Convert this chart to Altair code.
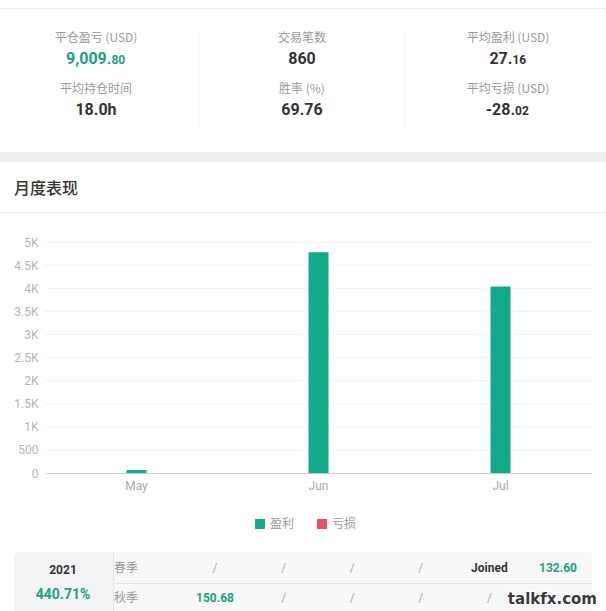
import altair as alt
import pandas as pd

# ---------------- data ----------------
stat_labels = ["平仓盈亏 (USD)", "交易笔数", "平均盈利 (USD)", "平均持仓时间", "胜率 (%)", "平均亏损 (USD)"]
stat_values = ["9,009.80", "860", "27.16", "18.0h", "69.76", "-28.02"]
stat_small_decimals = [True, False, True, False, False, True]
stat_col = [0, 1, 2, 0, 1, 2]
stat_row = [0, 0, 0, 1, 1, 1]

section_title = "月度表现"
months = ["May", "Jun", "Jul"]
monthly_profit = [65, 4780, 4035]
series_names = ["盈利", "亏损"]
y_ticks = [0, 500, 1000, 1500, 2000, 2500, 3000, 3500, 4000, 4500, 5000]

table_year = "2021"
table_year_return = "440.71%"
seasons = ["春季", "秋季"]
season_cells = [
    ["/", "/", "/", "/", "Joined", "132.60"],
    ["150.68", "/", "/", "/", "/", ""],
]
watermark = "talkfx.com"

# ---------------- styles ----------------
GREEN = "#13aa8c"
TEXT_GREEN = "#1c9f86"
RED = "#e4505e"
DARK = "#333333"
GRAY = "#999999"
CJK = "Noto Sans CJK SC"
NUM = "Roboto"

one = pd.DataFrame({"k": [0]})

X_STAT = alt.Scale(domain=[0, 2], range=[96, 508])
Y_STAT = alt.Scale(domain=[0, 1], range=[38, 89])
X_BAND = alt.Scale(domain=months, range=[45.5, 591.5], paddingInner=0.89, paddingOuter=0.445)
Y_BAR = alt.Scale(domain=[0, 5000], range=[473, 242], nice=False)
X_TAB = alt.Scale(domain=[1, 6], range=[215, 558])
Y_TAB = alt.Scale(domain=[0, 1], range=[568, 598])


def rect(x, x2, y, y2, color, **kw):
    return alt.Chart(one).mark_rect(color=color, **kw).encode(
        x=alt.value(x), x2=alt.value(x2), y=alt.value(y), y2=alt.value(y2))


def hrule(x, x2, y, color):
    return alt.Chart(one).mark_rule(color=color, strokeWidth=1).encode(
        x=alt.value(x), x2=alt.value(x2), y=alt.value(y))


def text_width(s, size):
    w = {".": 0.27, ",": 0.25, "-": 0.33}
    return sum(w.get(ch, 0.5615) for ch in s) * size


layers = []

# ---------- stats panel ----------
layers.append(hrule(0, 606, 8.5, "#f0f0f0"))
stats_df = pd.DataFrame({"label": stat_labels, "value": stat_values,
                         "col": stat_col, "row": stat_row, "i": list(range(6))})

div_df = pd.DataFrame({"b": [0.5, 1.5]})
layers.append(alt.Chart(div_df).mark_rule(color="#f2f2f2").encode(
    x=alt.X("b:Q", scale=X_STAT, axis=None), y=alt.value(30), y2=alt.value(130)))

layers.append(alt.Chart(stats_df).mark_text(font=CJK, fontSize=12, color=GRAY, baseline="middle").encode(
    x=alt.X("col:Q", scale=X_STAT, axis=None), y=alt.Y("row:Q", scale=Y_STAT, axis=None), text="label:N"))

for i, v in enumerate(stat_values):
    color = TEXT_GREEN if i == 0 else DARK
    sub = stats_df[stats_df["i"] == i]
    enc = dict(x=alt.X("col:Q", scale=X_STAT, axis=None), y=alt.Y("row:Q", scale=Y_STAT, axis=None))
    if stat_small_decimals[i]:
        p = v.index(".")
        main, dec = v[:p + 1], v[p + 1:]
        dx = (text_width(main, 16) - text_width(dec, 12)) / 2
        d = sub.assign(main=main, dec=dec)
        layers.append(alt.Chart(d).mark_text(font=NUM, fontSize=16, fontWeight="bold", color=color,
                                             baseline="alphabetic", align="right", dy=26, dx=dx).encode(
            text="main:N", **enc))
        layers.append(alt.Chart(d).mark_text(font=NUM, fontSize=12, fontWeight="bold", color=color,
                                             baseline="alphabetic", align="left", dy=26, dx=dx).encode(
            text="dec:N", **enc))
    else:
        layers.append(alt.Chart(sub).mark_text(font=NUM, fontSize=16, fontWeight="bold", color=color,
                                               baseline="alphabetic", align="center", dy=26).encode(
            text="value:N", **enc))

layers.append(rect(0, 606, 152, 162, "#efefef"))

# ---------- title ----------
layers.append(alt.Chart(pd.DataFrame({"t": [section_title]})).mark_text(
    font=CJK, fontSize=16, fontWeight=500, color=DARK, align="left", baseline="middle").encode(
    x=alt.value(14), y=alt.value(189), text="t:N"))
layers.append(hrule(0, 606, 212.5, "#e9e9e9"))

# ---------- bar chart ----------
grid_df = pd.DataFrame({"t": y_ticks[1:]})
layers.append(alt.Chart(grid_df).mark_rule(color="#f1f1f1").encode(
    y=alt.Y("t:Q", scale=Y_BAR, axis=None), x=alt.value(45), x2=alt.value(592)))

bars_df = pd.DataFrame({"month": months, "profit": monthly_profit, "series": series_names[0]})
layers.append(alt.Chart(bars_df).mark_bar(strokeWidth=0).encode(
    x=alt.X("month:N", sort=months, scale=X_BAND,
            axis=alt.Axis(title=None, offset=-138, labelAngle=0, domainColor="#cccccc", ticks=False,
                          labelColor="#aaaaaa", labelFontSize=12, labelFont=NUM, labelPadding=7,
                          grid=False)),
    y=alt.Y("profit:Q", scale=Y_BAR,
            axis=alt.Axis(title=None, offset=-45, values=y_ticks, domain=False, ticks=False, grid=False,
                          labelColor="#b5b5b5", labelFontSize=12, labelFont=NUM, labelPadding=7,
                          labelExpr="datum.value >= 1000 ? (datum.value / 1000) + 'K' : datum.label")),
    color=alt.Color("series:N", scale=alt.Scale(domain=series_names, range=[GREEN, RED]),
                    legend=alt.Legend(title=None, orient="none", legendX=254, legendY=518,
                                      direction="horizontal", symbolType="square", symbolSize=100,
                                      symbolStrokeWidth=0, labelFont=CJK, labelFontSize=12,
                                      labelColor=GRAY, columnPadding=21, labelOffset=4, padding=0)),
))

# ---------- table ----------
layers.append(rect(14, 592, 552, 620, "#f8f8f9", cornerRadius=4))
layers.append(rect(14, 113, 552, 620, "#f3f4f5", cornerRadiusTopLeft=4))
layers.append(alt.Chart(one).mark_rule(color="#e6e6e6").encode(
    x=alt.value(113.5), y=alt.value(552), y2=alt.value(611)))
layers.append(hrule(113, 592, 583.5, "#e6e6e6"))

layers.append(alt.Chart(pd.DataFrame({"t": [table_year]})).mark_text(
    font=NUM, fontSize=12, fontWeight="bold", color=DARK, baseline="middle").encode(
    x=alt.value(63), y=alt.value(570), text="t:N"))
layers.append(alt.Chart(pd.DataFrame({"t": [table_year_return]})).mark_text(
    font=NUM, fontSize=14, fontWeight="bold", color=TEXT_GREEN, baseline="middle").encode(
    x=alt.value(63), y=alt.value(595), text="t:N"))

season_df = pd.DataFrame({"s": seasons, "r": [0, 1]})
layers.append(alt.Chart(season_df).mark_text(font=CJK, fontSize=12, color=GRAY, align="left",
                                             baseline="middle").encode(
    x=alt.value(114), y=alt.Y("r:Q", scale=Y_TAB, axis=None), text="s:N"))

cells = [{"r": r, "c": c + 1, "v": v} for r, row in enumerate(season_cells) for c, v in enumerate(row) if v]
cells_df = pd.DataFrame(cells)
cell_enc = dict(x=alt.X("c:Q", scale=X_TAB, axis=None), y=alt.Y("r:Q", scale=Y_TAB, axis=None), text="v:N")
layers.append(alt.Chart(cells_df).transform_filter("datum.v == '/'").mark_text(
    font=NUM, fontSize=12, color="#aaaaaa", baseline="middle").encode(**cell_enc))
layers.append(alt.Chart(cells_df).transform_filter("datum.v == 'Joined'").mark_text(
    font=NUM, fontSize=12, fontWeight="bold", color=DARK, baseline="middle").encode(**cell_enc))
layers.append(alt.Chart(cells_df).transform_filter("datum.v != '/' && datum.v != 'Joined'").mark_text(
    font=NUM, fontSize=12, fontWeight="bold", color=TEXT_GREEN, baseline="middle").encode(**cell_enc))

wm = pd.DataFrame({"t": [watermark]})
layers.append(alt.Chart(wm).mark_text(font="DejaVu Sans", fontSize=15, fontWeight="bold", color="white",
                                      stroke="white", strokeWidth=3, align="right", baseline="middle").encode(
    x=alt.value(597), y=alt.value(599), text="t:N"))
layers.append(alt.Chart(wm).mark_text(font="DejaVu Sans", fontSize=15, fontWeight="bold", color="#3a3a3a",
                                      align="right", baseline="middle").encode(
    x=alt.value(597), y=alt.value(599), text="t:N"))

chart = alt.layer(*layers).resolve_scale(
    x="independent", y="independent", color="independent"
).properties(
    width=606, height=611, padding=0, background="white",
    autosize=alt.AutoSizeParams(type="none"),
).configure_view(stroke=None)

chart.save("out.html", embed_options={"renderer": "svg", "actions": False})
